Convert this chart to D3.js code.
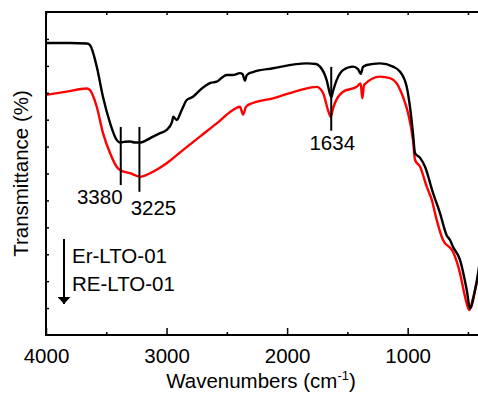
<!DOCTYPE html>
<html>
<head>
<meta charset="utf-8">
<script src="https://cdn.jsdelivr.net/npm/d3@7"></script>
<style>
  body { margin: 0; background: #fff; }
  svg { display: block; font-family: Arial, "Liberation Sans", sans-serif; }
</style>
</head>
<body>
<div class="ftir-chart"></div>
<script>
// DATA ------------------------------------

// Er-LTO-01 (black), wavenumber (cm-1) and transmittance (a.u.)
const er_wn = [4000, 3801, 3662, 3635, 3579, 3527, 3469, 3414, 3386, 3345, 3303, 3262, 3220, 3170, 3112, 3054,
    2999, 2955, 2944, 2916, 2874, 2833, 2781, 2723, 2640, 2584, 2501, 2449, 2391, 2370, 2350, 2335, 2283, 2117,
    1838, 1760, 1727, 1672, 1644, 1634, 1620, 1589, 1536, 1453, 1412, 1390, 1370, 1340, 1230, 1122, 1063, 1008,
    981, 956, 939, 897, 856, 790, 732, 676, 649, 624, 566, 510, 483, 441, 416, 400]
const er_t = [108.5, 108.5, 108.3, 107.7, 99.7, 88.4, 78.8, 72.5, 71.5, 71.8, 71.9, 71.5, 71.5, 72.3, 73.7, 75.0,
    76.2, 79.1, 81.1, 79.9, 83.6, 87.3, 88.5, 91.0, 93.6, 94.1, 96.6, 96.6, 97.3, 97.0, 94.5, 96.5, 97.7, 99.1,
    100.9, 100.7, 99.7, 94.7, 89.5, 88.3, 90.5, 94.7, 98.4, 99.7, 98.8, 97.0, 99.6, 100.3, 100.9, 99.7, 97.8, 92.2,
    84.8, 75.0, 67.6, 65.8, 62.5, 52.8, 45.3, 37.0, 35.3, 32.8, 27.9, 16.7, 9.9, 16.7, 23.0, 27.9]

// RE-LTO-01 (red)
const re_wn = [4000, 3828, 3662, 3635, 3579, 3527, 3469, 3414, 3386, 3303, 3220, 3137, 2999, 2864, 2723, 2584,
    2449, 2391, 2365, 2340, 2283, 2117, 1893, 1755, 1702, 1661, 1638, 1620, 1603, 1536, 1423, 1390, 1376, 1362,
    1230, 1147, 1091, 1039, 997, 956, 939, 897, 842, 800, 759, 707, 624, 566, 524, 489, 455, 416, 400]
const re_t = [89.2, 90.4, 91.6, 91.0, 84.8, 75.0, 67.6, 62.5, 61.3, 60.1, 58.8, 60.1, 63.8, 68.7, 73.7, 78.6,
    83.6, 84.8, 81.9, 84.9, 86.2, 87.9, 91.0, 92.2, 89.9, 83.6, 81.1, 84.0, 86.2, 90.4, 92.2, 93.5, 87.9, 92.9,
    96.0, 95.4, 93.5, 88.5, 82.5, 72.4, 65.0, 62.5, 55.1, 50.2, 42.7, 35.3, 30.9, 23.0, 14.2, 9.3, 14.2, 21.7, 24.9]

// peak markers: wavenumber, top and bottom of marker line (transmittance)
const peak_wn = [3380, 3225, 1634]
const peak_top = [77.3, 77.3, 99.6]
const peak_bottom = [55.7, 53.2, 75.9]
const peak_labels = ["3380", "3225", "1634"]

const legend_labels = ["Er-LTO-01", "RE-LTO-01"]
const major_ticks = [4000, 3000, 2000, 1000]
const minor_ticks = [3500, 2500, 1500, 500]
const y_ticks = d3.range(10, 120, 10)

// CHART INIT ------------------------------
const width = 478
const height = 402

const svg = d3.select(".ftir-chart").append("svg")
        .attr("width", width)
        .attr("height", height)

const xScale = d3.scaleLinear()
    .domain([4000, 400])
    .range([46, 480])

const yScale = d3.scaleLinear()
    .domain([0, 120])
    .range([335, 12])

const fs = 20.5

// curves
const line = d3.line()
    .x(d => xScale(d[0]))
    .y(d => yScale(d[1]))
    .curve(d3.curveMonotoneX)

const series = [
    {color: "#000000", pts: d3.zip(er_wn, er_t)},
    {color: "#ff0000", pts: d3.zip(re_wn, re_t)}
]

// draw red first so black sits on top where they meet
svg.selectAll("path.curve")
    .data(series.slice().reverse())
    .join("path")
        .attr("class", "curve")
        .attr("d", d => line(d.pts))
        .attr("fill", "none")
        .attr("stroke", d => d.color)
        .attr("stroke-width", 2.4)
        .attr("stroke-linejoin", "round")

// axes
const xBottom = svg.append("g")
        .attr("transform", `translate(0, ${yScale(0)})`)
        .call(d3.axisBottom(xScale).tickValues(major_ticks).tickFormat(d3.format("d"))
            .tickSizeInner(-7).tickSizeOuter(0).tickPadding(13))
xBottom.append("g")
        .call(d3.axisBottom(xScale).tickValues(minor_ticks).tickSizeInner(-3).tickSizeOuter(0).tickFormat(""))

const xTop = svg.append("g")
        .attr("transform", `translate(0, ${yScale(120)})`)
        .call(d3.axisTop(xScale).tickValues(major_ticks.concat(minor_ticks)).tickSizeInner(-3).tickSizeOuter(0).tickFormat(""))

const yLeft = svg.append("g")
        .attr("transform", `translate(${xScale(4000)}, 0)`)
        .call(d3.axisLeft(yScale).tickValues(y_ticks).tickSizeInner(-3).tickSizeOuter(0).tickFormat(""))

svg.selectAll(".domain").remove()
svg.selectAll(".tick line").attr("stroke", "#000").attr("stroke-width", 1.5)
xBottom.selectAll(".tick text")
        .attr("font-size", fs)
        .attr("font-family", "Arial, 'Liberation Sans', sans-serif")
        .attr("fill", "#000")

// frame
svg.append("rect")
        .attr("x", xScale(4000))
        .attr("y", yScale(120))
        .attr("width", xScale(400) - xScale(4000))
        .attr("height", yScale(0) - yScale(120))
        .attr("fill", "none")
        .attr("stroke", "#000")
        .attr("stroke-width", 2)

// axis titles
const xTitle = svg.append("text")
        .attr("x", 261)
        .attr("y", 388)
        .attr("text-anchor", "middle")
        .attr("font-size", fs)
xTitle.append("tspan").text("Wavenumbers (cm")
xTitle.append("tspan").text("-1").attr("font-size", 13).attr("dy", -8)
xTitle.append("tspan").text(")").attr("dy", 8)

svg.append("text")
        .attr("transform", `translate(28, ${(yScale(0) + yScale(120)) / 2}) rotate(-90)`)
        .attr("text-anchor", "middle")
        .attr("font-size", fs)
        .text("Transmittance (%)")

// peak markers
svg.selectAll("line.peak")
    .data(peak_wn)
    .join("line")
        .attr("class", "peak")
        .attr("x1", d => xScale(d))
        .attr("x2", d => xScale(d))
        .attr("y1", (d, i) => yScale(peak_top[i]))
        .attr("y2", (d, i) => yScale(peak_bottom[i]))
        .attr("stroke", "#000")
        .attr("stroke-width", 2)

// label offsets (dx, baseline) relative to the marker
const label_dx = [-21, 14, 1]
const label_dy = [19, 23, 19]
svg.selectAll("text.peak")
    .data(peak_wn)
    .join("text")
        .attr("class", "peak")
        .attr("x", (d, i) => xScale(d) + label_dx[i])
        .attr("y", (d, i) => yScale(peak_bottom[i]) + label_dy[i])
        .attr("text-anchor", "middle")
        .attr("font-size", fs)
        .text((d, i) => peak_labels[i])

// legend: arrow from top sample to bottom sample
svg.append("defs").append("marker")
        .attr("id", "head")
        .attr("viewBox", "0 0 10 10")
        .attr("refX", 10)
        .attr("refY", 5)
        .attr("markerUnits", "userSpaceOnUse")
        .attr("markerWidth", 7)
        .attr("markerHeight", 13)
        .attr("orient", "auto")
        .attr("preserveAspectRatio", "none")
    .append("path")
        .attr("d", "M0,0L10,5L0,10Z")
        .attr("fill", "#000")

svg.append("line")
        .attr("x1", 64).attr("x2", 64)
        .attr("y1", 239).attr("y2", 304)
        .attr("stroke", "#000")
        .attr("stroke-width", 2)
        .attr("marker-end", "url(#head)")

svg.selectAll("text.legend")
    .data(legend_labels)
    .join("text")
        .attr("class", "legend")
        .attr("x", 72)
        .attr("y", (d, i) => 263 + i * 28)
        .attr("font-size", fs)
        .text(d => d)
</script>
</body>
</html>
